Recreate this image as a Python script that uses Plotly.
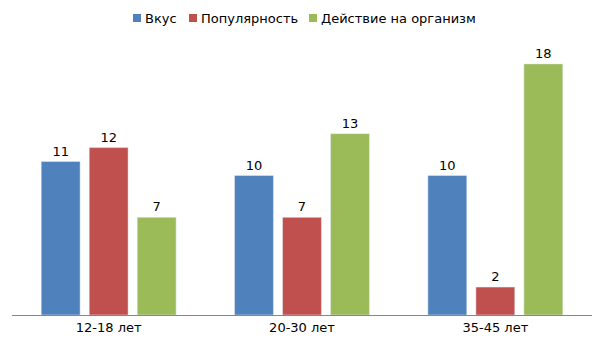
import plotly.graph_objects as go

categories = ["12-18 лет", "20-30 лет", "35-45 лет"]
series_names = ["Вкус", "Популярность", "Действие на организм"]
taste = [11, 10, 10]
popularity = [12, 7, 2]
effect = [7, 13, 18]
colors = ["#4F81BD", "#C0504D", "#9BBB59"]

L, R, T, B = 12, 13, 36, 25
W, H = 605, 340
pw, ph = W - L - R, H - T - B

def px_x(px):
    return (px - L) / pw

def px_y(py):
    return (H - B - py) / ph

fig = go.Figure()
for name, vals, col in zip(series_names, [taste, popularity, effect], colors):
    fig.add_trace(go.Bar(
        x=categories, y=vals, name=name, marker_color=col,
        text=[str(v) for v in vals], textposition="outside",
        textfont=dict(size=13, color="#000000"), cliponaxis=False,
    ))

# custom legend (square marker + text)
legend_sq_x = [133, 189, 309]
for name, col, sx in zip(series_names, colors, legend_sq_x):
    fig.add_shape(type="rect", xref="paper", yref="paper",
                  x0=px_x(sx), x1=px_x(sx + 8), y0=px_y(22), y1=px_y(14),
                  fillcolor=col, line=dict(width=0))
    fig.add_annotation(x=px_x(sx + 11), y=px_y(18), xref="paper", yref="paper",
                       xanchor="left", yanchor="middle", text=name, showarrow=False,
                       font=dict(size=13, color="#000000"), borderpad=0)

fig.update_layout(
    width=W, height=H,
    margin=dict(l=L, r=R, t=T, b=B),
    paper_bgcolor="white", plot_bgcolor="white",
    font=dict(family="DejaVu Sans", size=13, color="#000000"),
    barmode="group", bargap=0.255, bargroupgap=0.19,
    showlegend=False,
    xaxis=dict(showline=True, linecolor="#868686", linewidth=1, ticks="",
               tickfont=dict(size=13), automargin=False),
    yaxis=dict(range=[0, 20], visible=False, showgrid=False, automargin=False),
)
fig.write_html("out.html")
